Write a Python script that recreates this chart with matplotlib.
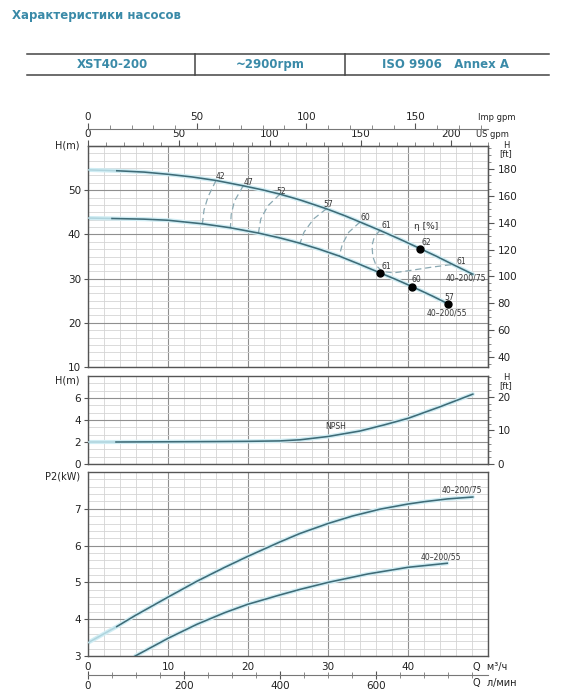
import numpy as np
import matplotlib.pyplot as plt
from matplotlib.ticker import MultipleLocator
from matplotlib.lines import Line2D

# ---- Напор H(Q), м ; Q в м3/ч
q75 = [0, 3.6, 7, 10, 13, 16, 19.4, 22, 24, 26.5, 29.8, 32, 34, 36.5, 39, 41.5, 43.5, 45.6, 48.1]
h75 = [54.6, 54.4, 54.1, 53.6, 53.0, 52.2, 51.0, 50.0, 49.1, 47.8, 45.8, 44.3, 42.8, 40.9, 38.9, 36.8, 35.1, 33.2, 31.0]
q55 = [0, 3, 7, 10, 14.3, 17.8, 21.3, 24, 26.5, 29, 31.4, 34, 36.5, 38.5, 40.5, 43, 45]
h55 = [43.7, 43.6, 43.45, 43.2, 42.4, 41.5, 40.3, 39.2, 38.0, 36.6, 35.1, 33.2, 31.3, 29.8, 28.2, 26.1, 24.3]

# ---- линии КПД (пунктир)
eff42_q = [16.0, 15.0, 14.5, 14.3]
eff42_h = [52.2, 48.5, 45.5, 42.4]
eff47_q = [19.4, 18.3, 17.9, 17.8]
eff47_h = [51.0, 47.5, 44.5, 41.5]
eff52_q = [24.0, 22.5, 21.6, 21.3]
eff52_h = [49.1, 46.5, 43.5, 40.3]
eff57_q = [29.8, 28.2, 27.0, 26.5]
eff57_h = [45.8, 43.5, 40.5, 38.0]
eff60_q = [34.0, 32.6, 31.8, 31.4]
eff60_h = [42.8, 40.5, 37.8, 35.1]
eff61_q = [36.5, 35.8, 35.5, 35.6, 36.0, 36.8, 38.2, 40.5, 43.0, 45.6]
eff61_h = [40.9, 39.5, 37.5, 35.0, 33.0, 31.6, 31.3, 31.9, 32.6, 33.2]

# точки с КПД
dot_q = [41.5, 36.5, 40.5, 45.0]
dot_h = [36.8, 31.3, 28.2, 24.3]

# ---- NPSH, м
q_npsh = [0, 3.5, 10, 16, 20, 24, 26.5, 30, 34, 37, 40, 44, 48.1]
npsh = [2.0, 2.0, 2.02, 2.04, 2.06, 2.1, 2.2, 2.5, 3.0, 3.55, 4.15, 5.2, 6.35]

# ---- мощность P2, кВт
qp75 = [0, 3.6, 5.9, 10, 13.6, 17, 19.9, 24, 26.5, 30, 33, 36.5, 40, 41.9, 45, 48.1]
p75 = [3.36, 3.8, 4.1, 4.6, 5.03, 5.4, 5.7, 6.1, 6.33, 6.6, 6.8, 6.99, 7.13, 7.19, 7.27, 7.32]
qp55 = [5.9, 10, 13.6, 17, 19.9, 24, 26.5, 30, 35, 40, 44.9]
p55 = [3.0, 3.48, 3.86, 4.17, 4.40, 4.66, 4.81, 5.0, 5.23, 5.41, 5.52]

W, H = 564, 699
dark = '#3e6b77'
halo = '#d0edf4'
faint = '#afd4dd'
blue = '#3a8aa8'

fig = plt.figure(figsize=(W / 100, H / 100), dpi=100)


def box(top, bottom):
    return [88 / W, 1 - bottom / H, 400 / W, (bottom - top) / H]


def grille(ax, y0, y1, yt, ymin):
    ax.set_xlim(0, 50)
    ax.set_ylim(y0, y1)
    ax.set_xticks([0, 10, 20, 30, 40, 50])
    ax.xaxis.set_minor_locator(MultipleLocator(2))
    ax.set_yticks(yt)
    ax.yaxis.set_minor_locator(MultipleLocator(ymin))
    ax.grid(which='major', color='#8f8f8f', lw=0.8)
    ax.grid(which='minor', color='#d4d4d4', lw=0.6)
    ax.set_axisbelow(True)
    ax.tick_params(which='minor', length=0)
    ax.tick_params(which='major', labelsize=7.5, length=3, width=0.8, color='#555', labelcolor='#222', pad=2)
    for s in ax.spines.values():
        s.set_color('#555')
        s.set_linewidth(1)


def courbe(ax, q, y, start=1):
    ax.plot(q, y, color=halo, lw=3, solid_capstyle='round', zorder=2)
    ax.plot(q[:start + 1], y[:start + 1], color=faint, lw=1.1, zorder=3)
    ax.plot(q[start:], y[start:], color=dark, lw=1.15, zorder=4)


m2ft = (lambda m: m * 3.2808, lambda f: f / 3.2808)

# ================= напор =================
ax1 = fig.add_axes(box(146, 367))
grille(ax1, 10, 60, [10, 20, 30, 40, 50], 10 / 6)
ax1.tick_params(axis='x', labelbottom=False, length=0)
ax1.text(-0.02, 1.0, 'H(m)', transform=ax1.transAxes, ha='right', va='center', fontsize=7, color='#222')

courbe(ax1, q75, h75)
courbe(ax1, q55, h55)
for eq, eh in [(eff42_q, eff42_h), (eff47_q, eff47_h), (eff52_q, eff52_h),
               (eff57_q, eff57_h), (eff60_q, eff60_h), (eff61_q, eff61_h)]:
    ax1.plot(eq, eh, color='#8aa9b3', lw=0.9, dashes=(5, 3), zorder=3)
ax1.plot(dot_q, dot_h, 'o', color='black', ms=5, zorder=5)

lbl = [(16.5, 53.1, '42'), (20.0, 51.8, '47'), (24.2, 49.8, '52'), (30.0, 46.7, '57'),
       (34.7, 43.8, '60'), (37.3, 42.0, '61'), (42.3, 38.2, '62'), (46.7, 33.8, '61'),
       (37.3, 32.8, '61'), (41.0, 29.9, '60'), (45.2, 25.8, '57')]
for x, y, t in lbl:
    ax1.text(x, y, t, fontsize=5.5, color='#333', ha='center', va='center')
ax1.text(42.3, 41.7, 'η [%]', fontsize=6.5, color='#333', ha='center', va='center')
ax1.text(47.2, 30.2, '40–200/75', fontsize=5.5, color='#333', ha='center', va='center')
ax1.text(44.8, 22.3, '40–200/55', fontsize=5.5, color='#333', ha='center', va='center')

ft1 = ax1.secondary_yaxis('right', functions=m2ft)
ft1.set_yticks(range(40, 181, 20))
ft1.yaxis.set_minor_locator(MultipleLocator(5))
ft1.tick_params(which='major', labelsize=7.5, length=4, color='#555', labelcolor='#222', pad=3)
ft1.tick_params(which='minor', length=2.5, color='#777')
ax1.text(1.045, 0.985, 'H\n[ft]', transform=ax1.transAxes, ha='center', va='center',
         fontsize=6, color='#222', linespacing=0.85)

# US gpm / Imp gpm
us = ax1.secondary_xaxis('top', functions=(lambda q: q * 4.4029, lambda g: g / 4.4029))
us.set_xticks([0, 50, 100, 150, 200])
us.xaxis.set_minor_locator(MultipleLocator(10))
us.tick_params(which='major', labelsize=7.5, length=4, color='#555', labelcolor='#222', pad=1)
us.tick_params(which='minor', length=3, color='#777')
imp = ax1.secondary_xaxis(1.0756, functions=(lambda q: q * 3.6661, lambda g: g / 3.6661))
imp.set_xticks([0, 50, 100, 150])
imp.xaxis.set_minor_locator(MultipleLocator(10))
imp.tick_params(which='major', labelsize=7.5, length=4, color='#555', labelcolor='#222', pad=1)
imp.tick_params(which='minor', length=3, color='#777')
imp.spines['top'].set_color('#777')
ax1.text(1.01, 1.052, 'US gpm', transform=ax1.transAxes, ha='center', va='center', fontsize=6, color='#222')
ax1.text(1.022, 1.127, 'Imp gpm', transform=ax1.transAxes, ha='center', va='center', fontsize=6, color='#222')

# ================= NPSH =================
ax2 = fig.add_axes(box(376, 464))
grille(ax2, 0, 8, [0, 2, 4, 6], 2 / 3)
ax2.tick_params(axis='x', labelbottom=False, length=0)
ax2.text(-0.02, 0.95, 'H(m)', transform=ax2.transAxes, ha='right', va='center', fontsize=7, color='#222')
courbe(ax2, q_npsh, npsh)
ax2.text(30.9, 3.4, 'NPSH', fontsize=5.5, color='#333', ha='center', va='center')
ft2 = ax2.secondary_yaxis('right', functions=m2ft)
ft2.set_yticks([0, 10, 20])
ft2.yaxis.set_minor_locator(MultipleLocator(2))
ft2.tick_params(which='major', labelsize=7.5, length=4, color='#555', labelcolor='#222', pad=3)
ft2.tick_params(which='minor', length=2.5, color='#777')
ax2.text(1.045, 0.94, 'H\n[ft]', transform=ax2.transAxes, ha='center', va='center',
         fontsize=6, color='#222', linespacing=0.85)

# ================= P2 =================
ax3 = fig.add_axes(box(472, 656))
grille(ax3, 3, 8, [3, 4, 5, 6, 7], 0.2)
ax3.set_xticks([0, 10, 20, 30, 40, 50], ['0', '10', '20', '30', '40', ''])
ax3.tick_params(axis='x', length=0, pad=4)
ax3.text(-0.02, 0.975, 'P2(kW)', transform=ax3.transAxes, ha='right', va='center', fontsize=7, color='#222')
courbe(ax3, qp75, p75)
courbe(ax3, qp55, p55, start=0)
ax3.text(46.7, 7.5, '40–200/75', fontsize=5.5, color='#333', ha='center', va='center')
ax3.text(44.1, 5.7, '40–200/55', fontsize=5.5, color='#333', ha='center', va='center')

lmin = ax3.secondary_xaxis(-0.103, functions=(lambda q: q * 16.667, lambda l: l / 16.667))
lmin.set_xticks([0, 200, 400, 600])
lmin.xaxis.set_minor_locator(MultipleLocator(50))
lmin.tick_params(which='major', direction='inout', labelsize=7.5, length=6, color='#555', labelcolor='#222', pad=1)
lmin.tick_params(which='minor', direction='inout', length=5, color='#777')
lmin.spines['bottom'].set_color('#777')
ax3.text(0.962, -0.06, 'Q  м³/ч', transform=ax3.transAxes, ha='left', va='center', fontsize=7, color='#222')
ax3.text(0.962, -0.148, 'Q  л/мин', transform=ax3.transAxes, ha='left', va='center', fontsize=7, color='#222')

# ================= шапка =================
fig.text(12 / W, 1 - 15 / H, 'Характеристики насосов', fontsize=8.5, fontweight='bold', color=blue, va='center')
for y in [54, 75]:
    fig.add_artist(Line2D([27 / W, 549 / W], [1 - y / H, 1 - y / H], color='#444', lw=1.1))
for x in [195, 345]:
    fig.add_artist(Line2D([x / W, x / W], [1 - 54 / H, 1 - 75 / H], color='#444', lw=1.1))
for x, t in [(112, 'XST40-200'), (270, '~2900rpm'), (446, 'ISO 9906   Annex A')]:
    fig.text(x / W, 1 - 64.5 / H, t, fontsize=8.5, fontweight='bold', color=blue, ha='center', va='center')

fig.savefig('out.png', dpi=100)
